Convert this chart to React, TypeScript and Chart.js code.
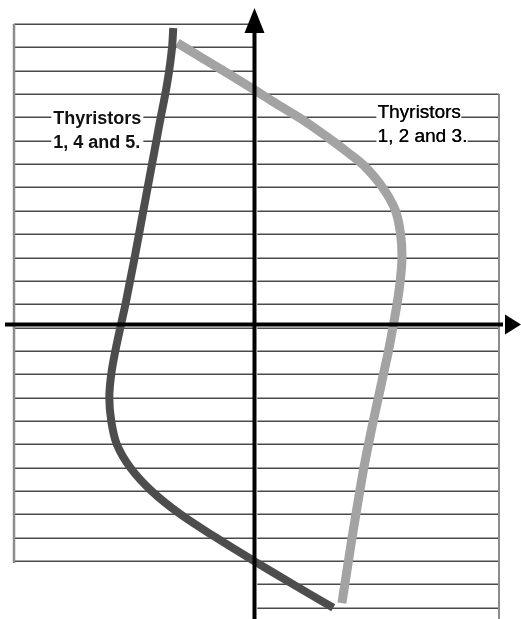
import React, { useEffect, useRef } from 'react';
import { Chart, registerables } from 'chart.js';

Chart.register(...registerables);

// Scale ranges (grid lines sit on integer y values)
const X_MIN = -10;
const X_MAX = 10.1;
const Y_MIN = -12;
const Y_MAX = 13;
const AXIS_CROSS_Y = 0.13;

// Grid extents of the two panels (y values)
const LEFT_GRID = [13, -10];
const RIGHT_GRID = [10, -12];

// Curve "Thyristors 1, 4 and 5." (dark)
const darkX = [-3.40, -3.45, -3.57, -3.73, -3.92, -4.10, -4.28, -4.46, -4.64, -4.82, -5.00, -5.19, -5.38, -5.57, -5.80, -5.97, -6.05, -5.97, -5.74, -5.18, -4.30, -3.10, -1.62, -0.05, 1.57, 3.23];
const darkY = [12.83, 12.0, 11.0, 10.0, 9.0, 8.0, 7.0, 6.0, 5.0, 4.0, 3.0, 2.0, 1.0, 0.11, -1.0, -2.0, -3.0, -4.0, -5.0, -6.0, -7.0, -8.0, -9.0, -10.0, -11.0, -12.0];

// Curve "Thyristors 1, 2 and 3." (light)
const lightX = [-3.23, -2.28, -1.04, 0, 0.85, 1.88, 2.98, 3.81, 4.48, 5.26, 5.80, 6.02, 6.08, 6.01, 5.88, 5.72, 5.52, 5.31, 5.10, 4.89, 4.69, 4.50, 4.33, 4.17, 4.01, 3.86, 3.71, 3.59];
const lightY = [12.19, 11.59, 10.82, 10.16, 9.60, 8.95, 8.16, 7.52, 6.96, 6.02, 5.03, 4.01, 3.02, 2.04, 1.05, 0.11, -1.0, -2.0, -3.0, -4.0, -5.0, -6.0, -7.0, -8.0, -9.0, -10.0, -11.0, -11.8];

// Labels
const labelLeftLines = ['Thyristors', '1, 4 and 5.'];
const labelRightLines = ['Thyristors', '1, 2 and 3.'];
const labelLeftAnchor = { x: -8.37, y: 9 };
const labelRightAnchor = { x: 5.06, y: 9 };

const toPoints = (xs: number[], ys: number[]) => xs.map((x, i) => ({ x, y: ys[i] }));

const FONT = '"Liberation Sans", Arial, Helvetica, sans-serif';

const backgroundPlugin = {
  id: 'panelGrid',
  beforeDatasetsDraw(chart: any) {
    const ctx = chart.ctx as CanvasRenderingContext2D;
    const xs = chart.scales.x;
    const ys = chart.scales.y;
    const px = (v: number) => xs.getPixelForValue(v);
    const py = (v: number) => ys.getPixelForValue(v);
    const x0 = px(0);
    ctx.save();
    ctx.fillStyle = '#ffffff';
    ctx.fillRect(0, 0, chart.width, chart.height);

    // grid lines
    ctx.lineWidth = 1.5;
    ctx.strokeStyle = '#4a4a4a';
    for (let v = LEFT_GRID[0]; v >= LEFT_GRID[1]; v--) {
      const y = Math.round(py(v)) + 0.25;
      ctx.beginPath();
      ctx.moveTo(px(X_MIN), y);
      ctx.lineTo(x0 - 2, y);
      ctx.stroke();
    }
    for (let v = RIGHT_GRID[0]; v >= RIGHT_GRID[1]; v--) {
      const y = Math.round(py(v)) + 0.25;
      ctx.beginPath();
      ctx.moveTo(x0 + 2, y);
      ctx.lineTo(px(X_MAX), y);
      ctx.stroke();
    }
    // panel borders
    ctx.strokeStyle = '#8c8c8c';
    ctx.lineWidth = 2.5;
    ctx.beginPath();
    ctx.moveTo(px(X_MIN), py(LEFT_GRID[0]));
    ctx.lineTo(px(X_MIN), py(LEFT_GRID[1]) + 2);
    ctx.stroke();
    ctx.lineWidth = 2;
    ctx.beginPath();
    ctx.moveTo(px(X_MAX), py(RIGHT_GRID[0]));
    ctx.lineTo(px(X_MAX), chart.height);
    ctx.stroke();

    // left label (centred on grid lines)
    ctx.font = 'bold 18px ' + FONT;
    const w = Math.max(...labelLeftLines.map((t) => ctx.measureText(t).width));
    let lx = px(labelLeftAnchor.x);
    ctx.fillStyle = '#ffffff';
    ctx.fillRect(lx - 2, py(labelLeftAnchor.y) - 11, w + 4, py(labelLeftAnchor.y - 1) - py(labelLeftAnchor.y) + 22);
    ctx.fillStyle = '#111111';
    ctx.textBaseline = 'alphabetic';
    labelLeftLines.forEach((t, i) => {
      ctx.fillText(t, lx, py(labelLeftAnchor.y - i) + 7);
    });

    // right label (sitting on grid lines)
    ctx.font = '19px ' + FONT;
    lx = px(labelRightAnchor.x);
    labelRightLines.forEach((t, i) => {
      const yy = py(labelRightAnchor.y - i);
      const tw = ctx.measureText(t).width;
      ctx.fillStyle = '#ffffff';
      ctx.fillRect(lx - 1, yy - 15, tw + 1.5, 19);
    });
    ctx.fillStyle = '#000000';
    labelRightLines.forEach((t, i) => {
      const yy = py(labelRightAnchor.y - i) + 1;
      ctx.fillText(t, lx, yy);
      ctx.fillText(t, lx + 0.3, yy);
    });
    ctx.restore();
  },
  afterDatasetsDraw(chart: any) {
    const ctx = chart.ctx as CanvasRenderingContext2D;
    const xs = chart.scales.x;
    const ys = chart.scales.y;
    const ax = xs.getPixelForValue(0) - 0.8;
    const ay = ys.getPixelForValue(AXIS_CROSS_Y);
    const top = chart.chartArea.top;
    ctx.save();
    ctx.strokeStyle = '#000000';
    ctx.fillStyle = '#000000';
    ctx.lineWidth = 4;
    // vertical axis
    ctx.beginPath();
    ctx.moveTo(ax, top + 6);
    ctx.lineTo(ax, chart.height);
    ctx.stroke();
    ctx.beginPath();
    ctx.moveTo(ax, top - 16);
    ctx.lineTo(ax - 10, top + 9);
    ctx.lineTo(ax + 10, top + 9);
    ctx.closePath();
    ctx.fill();
    // horizontal axis
    const right = chart.width;
    ctx.beginPath();
    ctx.moveTo(5, ay);
    ctx.lineTo(right - 18, ay);
    ctx.stroke();
    ctx.beginPath();
    ctx.moveTo(right, ay);
    ctx.lineTo(right - 16, ay - 10);
    ctx.lineTo(right - 16, ay + 10);
    ctx.closePath();
    ctx.fill();
    ctx.restore();
  },
};

export default function App() {
  const canvasRef = useRef<HTMLCanvasElement | null>(null);

  useEffect(() => {
    if (!canvasRef.current) return;
    const base = { showLine: true, pointRadius: 0, tension: 0.35, clip: false };
    const chart = new Chart(canvasRef.current, {
      type: 'scatter',
      data: {
        datasets: [
          {
            ...base,
            label: 'Thyristors 1, 4 and 5.',
            data: toPoints(darkX, darkY),
            borderColor: '#4d4d4d',
            borderWidth: 8,
          } as any,
          {
            ...base,
            label: 'texture-dark',
            data: toPoints(darkX, darkY),
            borderColor: 'rgba(255,255,255,0.22)',
            borderWidth: 7,
            borderDash: [1, 5],
          } as any,
          {
            ...base,
            label: 'Thyristors 1, 2 and 3.',
            data: toPoints(lightX, lightY),
            borderColor: '#a3a3a3',
            borderWidth: 9,
          } as any,
          {
            ...base,
            label: 'texture-light',
            data: toPoints(lightX, lightY),
            borderColor: 'rgba(255,255,255,0.3)',
            borderWidth: 8,
            borderDash: [1, 5],
          } as any,
        ],
      },
      options: {
        responsive: false,
        animation: false,
        devicePixelRatio: 1,
        layout: { padding: { left: 14, right: 22, top: 24, bottom: 11.25 } },
        plugins: { legend: { display: false }, tooltip: { enabled: false } },
        scales: {
          x: { type: 'linear', min: X_MIN, max: X_MAX, display: false },
          y: { type: 'linear', min: Y_MIN, max: Y_MAX, display: false },
        },
      },
      plugins: [backgroundPlugin],
    });
    return () => chart.destroy();
  }, []);

  return (
    <div style={{ position: 'fixed', left: 0, top: 0, width: 521, height: 619, background: '#fff' }}>
      <canvas ref={canvasRef} width={521} height={619} style={{ display: 'block' }} />
    </div>
  );
}
